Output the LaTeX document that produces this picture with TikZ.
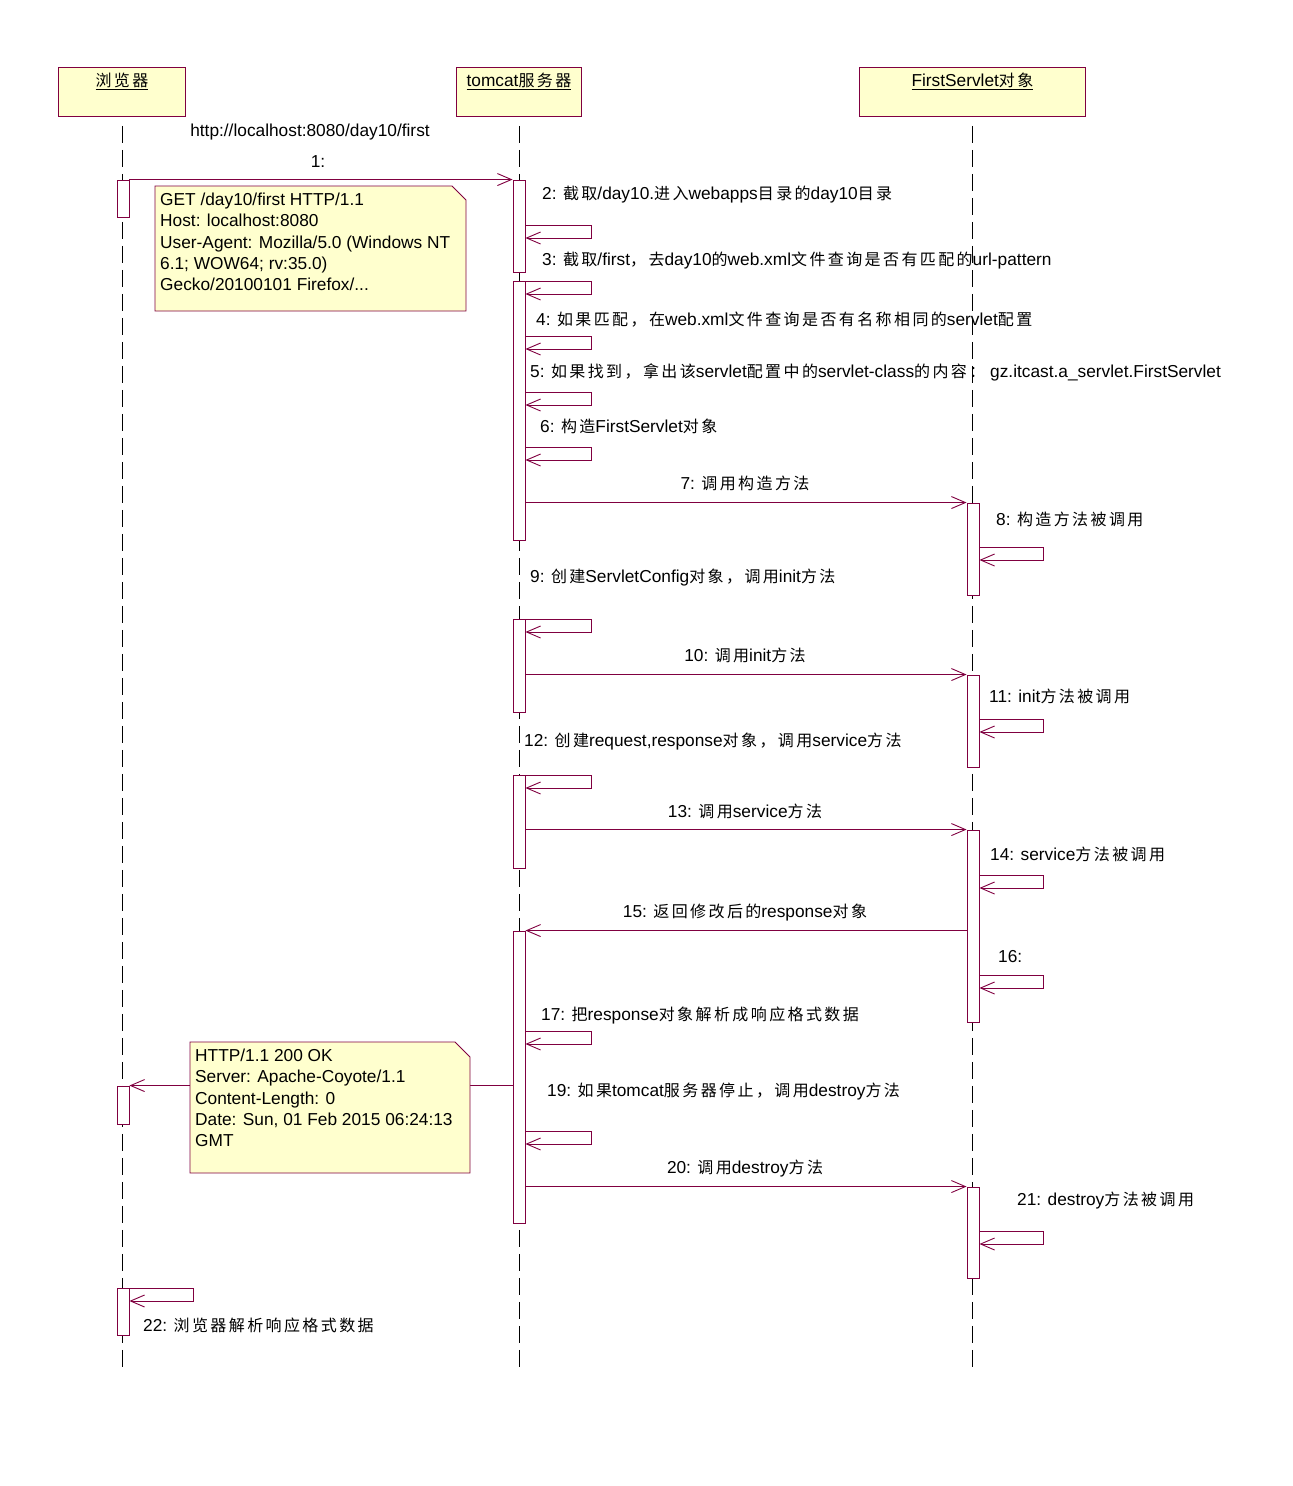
\documentclass[tikz,border=0pt]{standalone}
\usepackage{fontspec}
\setmainfont{Liberation Sans}
\newfontfamily\cjk[Scale=0.925, LetterSpace=15]{Noto Sans CJK SC}
\usepackage{xcolor}
\usetikzlibrary{arrows.meta, positioning}

\definecolor{umlline}{RGB}{128,0,64}
\definecolor{umlfill}{RGB}{255,255,206}
\newcommand{\zh}[1]{{\cjk #1}}

\tikzset{
  head/.style={draw=umlline, fill=umlfill, line width=0.9pt, minimum height=49, inner sep=0},
  headtxt/.style={inner sep=1pt, font=\fontsize{17.3}{19}\selectfont},
  life/.style={line width=0.9pt, dash pattern=on 17pt off 7pt},
  act/.style={draw=umlline, fill=white, line width=0.9pt, minimum width=12, inner sep=0},
  msg/.style={umlline, line width=0.9pt, -{Straight Barb[length=14pt, width=12pt]}},
  lbl/.style={inner sep=0, font=\fontsize{17.3}{19}\selectfont},
  notebg/.style={draw=umlline, fill=umlfill, line width=0.9pt},
  notetxt/.style={inner xsep=5pt, inner ysep=7pt, align=left, font=\fontsize{17.3}{21.2}\selectfont}
}

\begin{document}
\begin{tikzpicture}[x=1pt, y=-1pt]
            \useasboundingbox (0,0) rectangle (1293,1486);
            % 1. Lifeline heads
            \node[head, minimum width=127, anchor=north west] (browser) at (58,67) {};
            \node[head, minimum width=125, anchor=north west] (tomcat) at (456,67) {};
            \node[head, minimum width=226, anchor=north west] (servlet) at (859,67) {};
            \node[headtxt, below=5pt of browser.north] (browsername) {\underline{\zh{浏览器}}};
            \node[headtxt, below=5pt of tomcat.north] (tomcatname) {\underline{tomcat\zh{服务器}}};
            \node[headtxt, below=5pt of servlet.north] (servletname) {\underline{FirstServlet\zh{对象}}};

            \coordinate (bottom) at (0,1370);
            \foreach \n in {browser, tomcat, servlet} {
                \draw[life] (\n.south) ++(0,9) -- (\n.south |- bottom);
            }

            % 2. Activation bars
            \foreach \nm/\x/\ya/\yb in {ba1/123/180/217, ba2/123/1086/1124, ba3/123/1288/1335,
                ta1/519/180/272, ta2/519/281/540, ta3/519/619/712, ta4/519/775/868, ta5/519/931/1223,
                sa1/973/503/595, sa2/973/675/767, sa3/973/830/1022, sa4/973/1187/1278} {
                \node[act, minimum height=\yb-\ya] (\nm) at (\x,{(\ya+\yb)/2}) {};
            }

            % 3. Calls between lifelines
            \draw[msg] (ba1.north east) -- (ta1.north west);
            \draw[msg] (ta2.east |- sa1.north) -- (sa1.north west);
            \draw[msg] (ta3.east |- sa2.north) -- (sa2.north west);
            \draw[msg] (ta4.east |- sa3.north) -- (sa3.north west);
            \draw[msg] (sa3.west |- ta5.north) -- (ta5.north east);
            \draw[msg] (ta5.west |- ba2.north) -- (ba2.north east);
            \draw[msg] (ta5.east |- sa4.north) -- (sa4.north west);

            % 4. Self calls
            \foreach \a/\y/\w in {ta1/225/66, ta2/281/66, ta2/336/66, ta2/392/66, ta2/447/66,
                ta3/619/66, ta4/775/66, ta5/1031/66, ta5/1131/66,
                sa1/547/64, sa2/719/64, sa3/875/64, sa3/975/64, sa4/1231/64, ba3/1288/64} {
                \draw[msg] (\a.east |- 0,\y) -- ++(\w,0) -- ++(0,13) -- ++(-\w,0);
            }

            % 5. Notes
            \draw[notebg] (155,186) -- (452,186) -- (466,200) -- (466,311) -- (155,311) -- cycle;
            \node[notetxt, anchor=north west] (request) at (155,186)
                {GET /day10/first HTTP/1.1\\Host: localhost:8080\\User-Agent: Mozilla/5.0 (Windows NT\\6.1; WOW64; rv:35.0)\\Gecko/20100101 Firefox/...};
            \draw[notebg] (190,1042) -- (455,1042) -- (470,1057) -- (470,1173) -- (190,1173) -- cycle;
            \node[notetxt, anchor=north west] (response) at (190,1042)
                {HTTP/1.1 200 OK\\Server: Apache-Coyote/1.1\\Content-Length: 0\\Date: Sun, 01 Feb 2015 06:24:13\\GMT};

            % 6. Message labels
            \node[lbl, anchor=base] (url) at (310,136) {http://localhost:8080/day10/first};
            \node[lbl, anchor=base] (m1) at (318,167) {1:};
            \node[lbl, anchor=base west] (m2) at (542,199) {2: \zh{截取}/day10.\zh{进入}webapps\zh{目录的}day10\zh{目录}};
            \node[lbl, anchor=base west] (m3) at (542,265) {3: \zh{截取}/first\zh{，去}day10\zh{的}web.xml\zh{文件查询是否有匹配的}url-pattern};
            \node[lbl, anchor=base west] (m4) at (536,325) {4: \zh{如果匹配，在}web.xml\zh{文件查询是否有名称相同的}servlet\zh{配置}};
            \node[lbl, anchor=base west] (m5) at (530,377) {5: \zh{如果找到，拿出该}servlet\zh{配置中的}servlet-class\zh{的内容：} gz.itcast.a\_servlet.FirstServlet};
            \node[lbl, anchor=base west] (m6) at (540,432) {6: \zh{构造}FirstServlet\zh{对象}};
            \node[lbl, anchor=base] (m7) at (745,489) {7: \zh{调用构造方法}};
            \node[lbl, anchor=base west] (m8) at (996,525) {8: \zh{构造方法被调用}};
            \node[lbl, anchor=base west] (m9) at (530,582) {9: \zh{创建}ServletConfig\zh{对象，调用}init\zh{方法}};
            \node[lbl, anchor=base] (m10) at (745,661) {10: \zh{调用}init\zh{方法}};
            \node[lbl, anchor=base west] (m11) at (989,702) {11: init\zh{方法被调用}};
            \node[lbl, anchor=base west] (m12) at (524,746) {12: \zh{创建}request,response\zh{对象，调用}service\zh{方法}};
            \node[lbl, anchor=base] (m13) at (745,817) {13: \zh{调用}service\zh{方法}};
            \node[lbl, anchor=base west] (m14) at (990,860) {14: service\zh{方法被调用}};
            \node[lbl, anchor=base] (m15) at (745,917) {15: \zh{返回修改后的}response\zh{对象}};
            \node[lbl, anchor=base west] (m16) at (998,962) {16:};
            \node[lbl, anchor=base west] (m17) at (541,1020) {17: \zh{把}response\zh{对象解析成响应格式数据}};
            \node[lbl, anchor=base west] (m19) at (547,1096) {19: \zh{如果}tomcat\zh{服务器停止，调用}destroy\zh{方法}};
            \node[lbl, anchor=base] (m20) at (745,1173) {20: \zh{调用}destroy\zh{方法}};
            \node[lbl, anchor=base west] (m21) at (1017,1205) {21: destroy\zh{方法被调用}};
            \node[lbl, anchor=base west] (m22) at (143,1331) {22: \zh{浏览器解析响应格式数据}};
\end{tikzpicture}
\end{document}
